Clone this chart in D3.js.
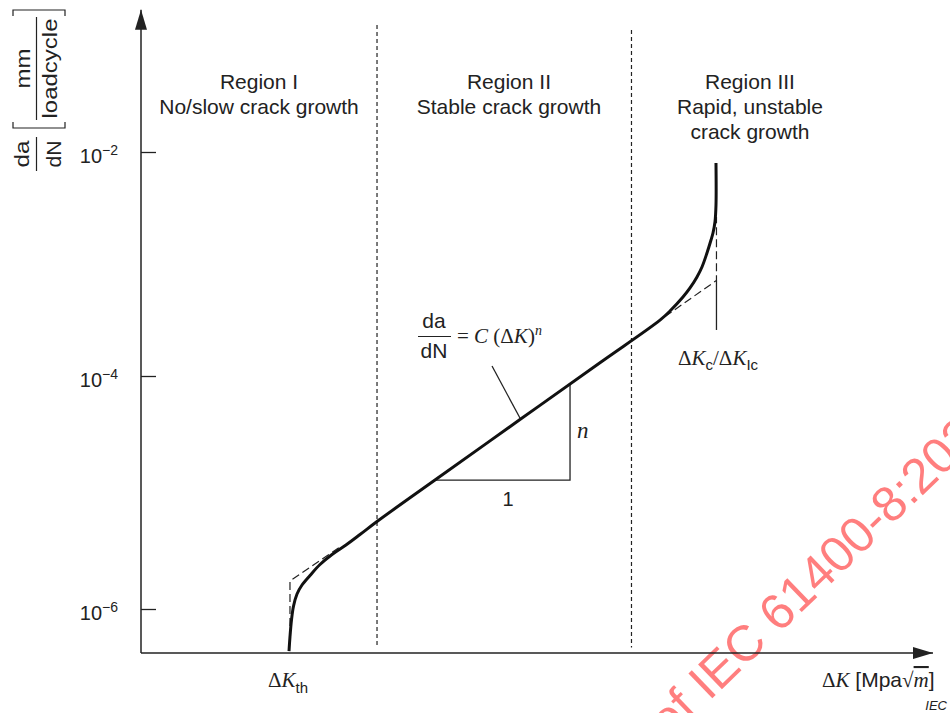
<!DOCTYPE html>
<html>
<head>
<meta charset="utf-8">
<title>da/dN - ΔK crack growth regions</title>
<script src="https://d3js.org/d3.v7.min.js"></script>
<style>
  body { margin: 0; background: #fff; }
  svg text { font-family: "Liberation Sans", Arial, sans-serif; fill: #222; }
  .serif { font-family: "Liberation Serif", "Times New Roman", serif; }
</style>
</head>
<body>
<div id="chart"></div>
<script>
// ---- data (x in arbitrary ΔK units, y as log10(da/dN)) ----
const curveDK = [18.69, 18.81, 19.00, 19.26, 19.70, 20.33, 21.34, 22.60, 24.12, 25.88, 27.65, 29.80,
                 37.12, 47.85, 57.95, 65.53, 66.79, 68.43, 69.32, 70.20, 70.83, 71.46, 71.97, 72.22,
                 72.47, 72.60, 72.60];
const curveLogRate = [-6.361, -6.240, -6.094, -5.974, -5.871, -5.794, -5.712, -5.618, -5.532, -5.451,
                      -5.361, -5.249, -4.893, -4.374, -3.881, -3.501, -3.420, -3.295, -3.214, -3.116,
                      -3.027, -2.902, -2.786, -2.723, -2.625, -2.473, -2.098];

// dashed threshold approximation (region I) and Paris-line extension (region III)
const thresholdDK = [18.81, 18.81, 25.13];
const thresholdLogRate = [-6.146, -5.760, -5.468];
const parisExtDK = [66.16, 72.66, 72.66];
const parisExtLogRate = [-3.469, -3.147, -2.580];
const kcMarkDK = [72.66, 72.66];
const kcMarkLogRate = [-3.147, -3.589];

// region boundaries
const boundaryDK = [29.80, 61.93];
const boundaryTopLogRate = [-0.866, -0.911];
const boundaryBottomLogRate = -6.33;

// slope triangle and equation pointer
const triangleDK = [37.12, 54.17, 54.17];
const triangleLogRate = [-4.893, -4.893, -4.071];
const pointerDK = [44.32, 47.85];
const pointerLogRate = [-3.911, -4.361];

// axes
const yTickExps = [-6, -4, -2];
const axisMinLogRate = -6.378;
const axisMaxLogRate = -0.73;

// region labels
const regionNames = ["Region I", "Region II", "Region III"];
const regionLines = [["No/slow crack growth"], ["Stable crack growth"], ["Rapid, unstable", "crack growth"]];
const regionLabelDK = [14.9, 46.46, 76.89];

const width = 950, height = 713;

const svg = d3.select("#chart").append("svg")
    .attr("width", width)
    .attr("height", height);

const x = d3.scaleLinear().domain([0, 100]).range([141, 933]);
const y = d3.scaleLinear().domain([-6, -4, -2]).range([609, 376, 152]);

const ink = "#222";

// arrow marker
svg.append("defs").append("marker")
    .attr("id", "arrow")
    .attr("markerUnits", "userSpaceOnUse")
    .attr("viewBox", "0 -6 20 12")
    .attr("refX", 20).attr("refY", 0)
    .attr("markerWidth", 20).attr("markerHeight", 12)
    .attr("orient", "auto")
    .append("path")
    .attr("d", "M0,-6L20,0L0,6Z")
    .attr("fill", ink);

// watermark (behind everything)
const wm = svg.append("g")
    .attr("transform", "translate(779,634) rotate(-44)")
    .style("font-size", "50px")
    .style("opacity", 0.5);
wm.append("text").attr("text-anchor", "end").style("fill", "#ff0000").text("of IEC\u00a0");
wm.append("text").attr("text-anchor", "start").style("fill", "#ff0000").text("61400-8:2024");

// axes lines with arrows
svg.append("line")
    .attr("x1", x(0)).attr("y1", y(axisMinLogRate))
    .attr("x2", x(100)).attr("y2", y(axisMinLogRate))
    .attr("stroke", ink).attr("stroke-width", 1.5)
    .attr("marker-end", "url(#arrow)");
svg.append("line")
    .attr("x1", x(0)).attr("y1", y(axisMinLogRate))
    .attr("x2", x(0)).attr("y2", y(axisMaxLogRate))
    .attr("stroke", ink).attr("stroke-width", 1.5)
    .attr("marker-end", "url(#arrow)");

// y ticks: inward marks, labels 10^n on the left
const yAxis = svg.append("g")
    .attr("transform", `translate(${x(0)},0)`)
    .call(d3.axisLeft(y).tickValues(yTickExps).tickSizeInner(-15).tickSizeOuter(0)
        .tickPadding(23).tickFormat(""));
yAxis.select(".domain").remove();
yAxis.selectAll(".tick line").attr("stroke", ink).attr("stroke-width", 1.3);
yAxis.selectAll(".tick text")
    .attr("dy", null).attr("y", 10)
    .style("font-size", "20px")
    .style("font-family", "'Liberation Sans', Arial, sans-serif")
    .attr("fill", ink)
    .each(function(d) {
        const t = d3.select(this);
        t.append("tspan").text("10");
        t.append("tspan").attr("dy", -8).style("font-size", "14px").text("\u2212" + Math.abs(d));
    });

// region boundaries
svg.selectAll(".boundary")
    .data(boundaryDK)
    .join("line")
    .attr("class", "boundary")
    .attr("x1", d => x(d)).attr("x2", d => x(d))
    .attr("y1", (d, i) => y(boundaryTopLogRate[i]))
    .attr("y2", y(boundaryBottomLogRate))
    .attr("stroke", ink).attr("stroke-width", 1.2)
    .attr("stroke-dasharray", "4,3");

const line = d3.line().x(d => x(d[0])).y(d => y(d[1]));

// dashed approximations
svg.append("path")
    .attr("d", line(d3.zip(thresholdDK, thresholdLogRate)))
    .attr("fill", "none").attr("stroke", ink).attr("stroke-width", 1.2)
    .attr("stroke-dasharray", "8,4");
svg.append("path")
    .attr("d", line(d3.zip(parisExtDK, parisExtLogRate)))
    .attr("fill", "none").attr("stroke", ink).attr("stroke-width", 1.2)
    .attr("stroke-dasharray", "8,4");
svg.append("path")
    .attr("d", line(d3.zip(kcMarkDK, kcMarkLogRate)))
    .attr("fill", "none").attr("stroke", ink).attr("stroke-width", 1.3);

// slope triangle and pointer
svg.append("path")
    .attr("d", line(d3.zip(triangleDK, triangleLogRate)))
    .attr("fill", "none").attr("stroke", ink).attr("stroke-width", 1.3);
svg.append("path")
    .attr("d", line(d3.zip(pointerDK, pointerLogRate)))
    .attr("fill", "none").attr("stroke", ink).attr("stroke-width", 1.3);

// main crack growth curve
svg.append("path")
    .attr("d", line.curve(d3.curveCatmullRom.alpha(0.5))(d3.zip(curveDK, curveLogRate)))
    .attr("fill", "none").attr("stroke", "#111").attr("stroke-width", 3)
    .attr("stroke-linejoin", "round");

// region labels
regionNames.forEach((name, i) => {
    const t = svg.append("text")
        .attr("x", x(regionLabelDK[i])).attr("y", 89)
        .attr("text-anchor", "middle")
        .style("font-size", "21px");
    t.append("tspan").attr("x", x(regionLabelDK[i])).text(name);
    regionLines[i].forEach(l => {
        t.append("tspan").attr("x", x(regionLabelDK[i])).attr("dy", 25).text(l);
    });
});

// y-axis label (rotated): da/dN [mm/loadcycle]
const yl = svg.append("g").attr("transform", "rotate(-90)").style("font-size", "21px");
const stretch = (sel, len) => sel.attr("textLength", len).attr("lengthAdjust", "spacingAndGlyphs");
stretch(yl.append("text").attr("x", -154).attr("y", 29).attr("text-anchor", "middle").text("da"), 27);
stretch(yl.append("text").attr("x", -154).attr("y", 61).attr("text-anchor", "middle").text("dN"), 27);
yl.append("line").attr("x1", -171).attr("x2", -137).attr("y1", 36.5).attr("y2", 36.5)
    .attr("stroke", ink).attr("stroke-width", 1.2);
stretch(yl.append("text").attr("x", -68.5).attr("y", 30).attr("text-anchor", "middle").text("mm"), 40);
stretch(yl.append("text").attr("x", -68.5).attr("y", 57).attr("text-anchor", "middle").text("loadcycle"), 100);
yl.append("line").attr("x1", -120).attr("x2", -17).attr("y1", 36.5).attr("y2", 36.5)
    .attr("stroke", ink).attr("stroke-width", 1.2);
// brackets
svg.append("path").attr("d", "M13,16V10H65V16").attr("fill", "none").attr("stroke", ink).attr("stroke-width", 1.2);
svg.append("path").attr("d", "M13,122V128H65V122").attr("fill", "none").attr("stroke", ink).attr("stroke-width", 1.2);

// equation label
svg.append("text").attr("x", 434).attr("y", 328).attr("text-anchor", "middle").style("font-size", "21px").text("da");
svg.append("text").attr("x", 434).attr("y", 358).attr("text-anchor", "middle").style("font-size", "21px").text("dN");
svg.append("line").attr("x1", 418).attr("x2", 451).attr("y1", 336.5).attr("y2", 336.5)
    .attr("stroke", ink).attr("stroke-width", 1.2);
const eq = svg.append("text").attr("class", "serif").attr("x", 457).attr("y", 343).style("font-size", "21px");
eq.append("tspan").text("= ");
eq.append("tspan").style("font-style", "italic").text("C");
eq.append("tspan").text(" (\u0394");
eq.append("tspan").style("font-style", "italic").text("K");
eq.append("tspan").text(")");
eq.append("tspan").attr("dy", -8).style("font-style", "italic").style("font-size", "14px").text("n");

// slope labels
svg.append("text").attr("x", 508).attr("y", 506).attr("text-anchor", "middle").style("font-size", "20px").text("1");
svg.append("text").attr("class", "serif").attr("x", 577).attr("y", 438)
    .style("font-size", "23px").style("font-style", "italic").text("n");

// ΔK_th
const kth = svg.append("text").attr("class", "serif").attr("x", 268).attr("y", 687).style("font-size", "21px");
kth.append("tspan").text("\u0394");
kth.append("tspan").style("font-style", "italic").text("K");
kth.append("tspan").attr("dy", 6).style("font-family", "'Liberation Sans', Arial, sans-serif")
    .style("font-size", "15px").text("th");

// ΔKc/ΔKIc
const kc = svg.append("text").attr("class", "serif").attr("x", 678).attr("y", 365).style("font-size", "21px");
kc.append("tspan").text("\u0394");
kc.append("tspan").style("font-style", "italic").text("K");
kc.append("tspan").attr("dy", 5).style("font-family", "'Liberation Sans', Arial, sans-serif")
    .style("font-size", "15px").text("c");
kc.append("tspan").attr("dy", -5).text("/\u0394");
kc.append("tspan").style("font-style", "italic").text("K");
kc.append("tspan").attr("dy", 5).style("font-family", "'Liberation Sans', Arial, sans-serif")
    .style("font-size", "15px").text("Ic");

// x-axis label ΔK [Mpa√m]
const xl = svg.append("text").attr("class", "serif").attr("x", 822).attr("y", 687).style("font-size", "21px");
xl.append("tspan").text("\u0394");
xl.append("tspan").style("font-style", "italic").text("K");
xl.append("tspan").style("font-family", "'Liberation Sans', Arial, sans-serif").text(" [Mpa");
xl.append("tspan").text("\u221A");
xl.append("tspan").style("font-style", "italic").style("text-decoration", "overline").text("m");
xl.append("tspan").style("font-family", "'Liberation Sans', Arial, sans-serif").text("]");

// IEC mark
svg.append("text").attr("x", 947).attr("y", 710).attr("text-anchor", "end")
    .style("font-size", "13px").style("font-style", "italic").text("IEC");
</script>
</body>
</html>
